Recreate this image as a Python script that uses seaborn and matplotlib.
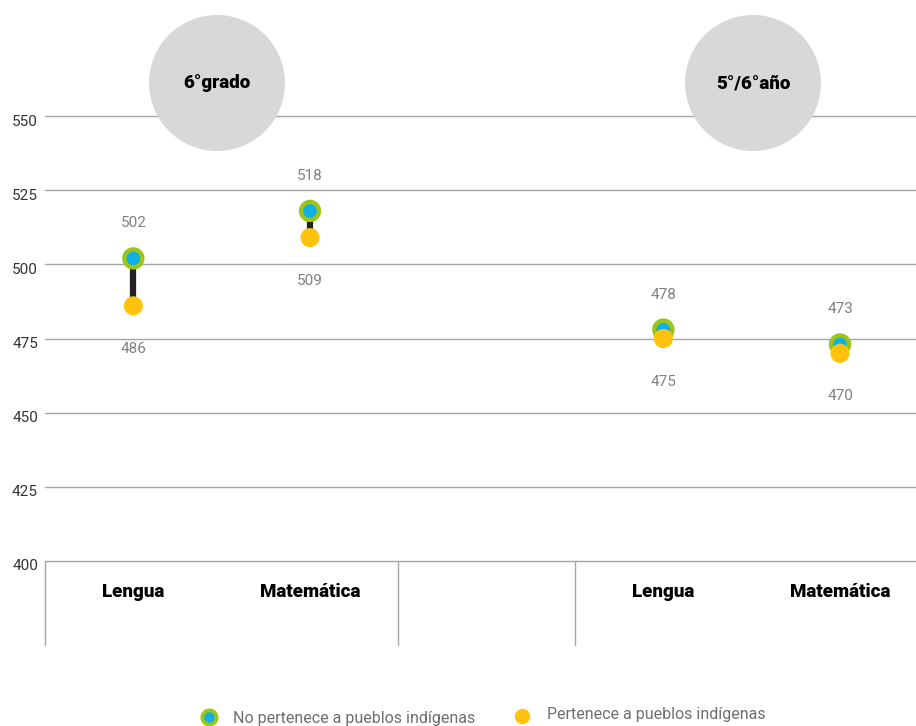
import matplotlib
matplotlib.use("Agg")
import matplotlib.pyplot as plt
import seaborn as sns
import pandas as pd
from matplotlib.patches import Circle
from matplotlib.lines import Line2D
from matplotlib.transforms import ScaledTranslation

# ---- data ----
categories = ["Lengua", "Matemática", "", "Lengua", "Matemática"]
positions = [0, 1, 3, 4]
no_indigena = [502, 518, 478, 473]
indigena = [486, 509, 475, 470]
group_labels = ["6°grado", "5°/6°año"]
y_ticks = [400, 425, 450, 475, 500, 525, 550]
legend_labels = ["No pertenece a pueblos indígenas", "Pertenece a pueblos indígenas"]

GREEN = "#9DC41A"
BLUE = "#0FB0E6"
YELLOW = "#FFC20E"
GRID = "#A6A6A6"

sns.set_theme(style="white")
plt.rcParams["font.family"] = ["Roboto", "DejaVu Sans"]

W, H = 916, 726
TOP, BOT = 116, 561
fig = plt.figure(figsize=(W / 100, H / 100), dpi=100)
ax = fig.add_axes([45 / W, 1 - BOT / H, (W - 45) / W, (BOT - TOP) / H])
ax.set_xlim(-0.5, 4.43)
ax.set_ylim(400, 550)

for s in ax.spines.values():
    s.set_visible(False)
ax.set_yticks(y_ticks)
ax.set_yticklabels([str(v) for v in y_ticks], fontsize=11, color="#333333")
ax.tick_params(axis="y", length=0, pad=5)
shift = ScaledTranslation(0, -4 / 100, fig.dpi_scale_trans)
for lab in ax.get_yticklabels():
    lab.set_transform(lab.get_transform() + shift)
ax.set_xticks([])
for v in y_ticks:
    ax.axhline(v, color=GRID, lw=1, zorder=0.5, clip_on=False)

df = pd.DataFrame({"x": positions, "no": no_indigena, "si": indigena})

# connecting lines
ax.vlines(df["x"], df["si"], df["no"], color="#222222", lw=4.5, zorder=2)
sns.scatterplot(data=df, x="x", y="no", s=260, color=GREEN, edgecolor="none", ax=ax, zorder=3, legend=False)
sns.scatterplot(data=df, x="x", y="no", s=95, color=BLUE, edgecolor="none", ax=ax, zorder=4, legend=False)
sns.scatterplot(data=df, x="x", y="si", s=190, color=YELLOW, edgecolor="none", ax=ax, zorder=5, legend=False)
ax.set_xlabel("")
ax.set_ylabel("")

# value labels
for x, a, b in zip(positions, no_indigena, indigena):
    top, bot = max(a, b), min(a, b)
    ax.annotate(str(top), (x, top), xytext=(0, 35 * 0.72), textcoords="offset points",
                ha="center", va="center", fontsize=11, color="#808080")
    ax.annotate(str(bot), (x, bot), xytext=(0, -43 * 0.72), textcoords="offset points",
                ha="center", va="center", fontsize=11, color="#808080")

# category labels and separators below axis
ax_h = BOT - TOP
for i, c in enumerate(categories):
    if c:
        ax.text(i, -36 / ax_h, c, transform=ax.get_xaxis_transform(), ha="center", va="baseline",
                fontsize=13.5, fontweight="black", color="black")
for xs in [-0.5, 1.5, 2.5]:
    ax.plot([xs, xs], [0, -84 / ax_h], transform=ax.get_xaxis_transform(), color=GRID, lw=1, clip_on=False)

# group bubbles
for (cx, cy), lab in zip([(217, 83), (753, 83)], group_labels):
    circ = Circle((cx / 100, (H - cy) / 100), 0.68, transform=fig.dpi_scale_trans,
                  facecolor="#D9D8D9", edgecolor="none", zorder=6, clip_on=False)
    ax.add_patch(circ)
    ax.text(cx / 100, (H - cy) / 100, lab, transform=fig.dpi_scale_trans, ha="center", va="center",
            fontsize=13.5, fontweight="black", color="black", zorder=7)

# legend
ly = 1 - 718 / H
fig.add_artist(Line2D([209 / W], [1 - 717 / H], marker="o", markersize=12, color=GREEN, ls="none", transform=fig.transFigure))
fig.add_artist(Line2D([209 / W], [1 - 717 / H], marker="o", markersize=6.5, color=BLUE, ls="none", transform=fig.transFigure))
fig.text(233 / W, ly, legend_labels[0], ha="left", va="center", fontsize=11.5, color="#6E6E6E")
fig.add_artist(Line2D([522 / W], [1 - 716 / H], marker="o", markersize=10, color=YELLOW, ls="none", transform=fig.transFigure))
fig.text(547 / W, 1 - 715 / H, legend_labels[1], ha="left", va="center", fontsize=11.5, color="#6E6E6E")

fig.savefig("out.png", dpi=100)
